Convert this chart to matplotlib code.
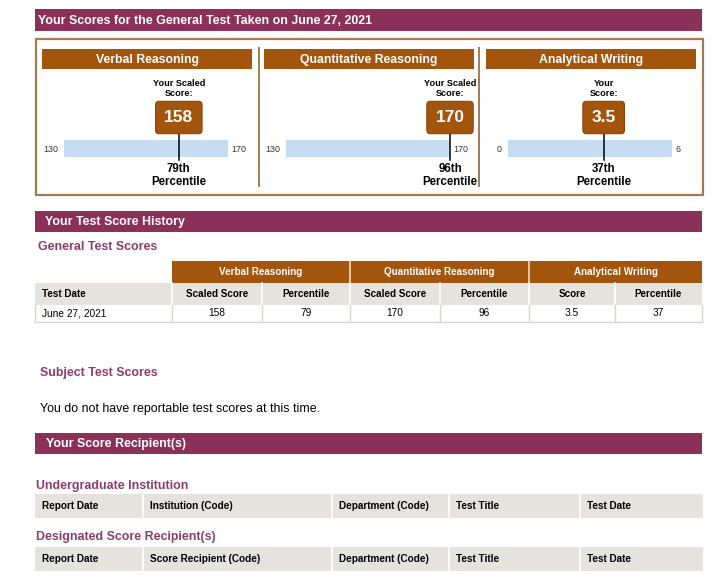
import matplotlib.pyplot as plt
from matplotlib.patches import Rectangle

plt.rcParams['font.family'] = ['Liberation Sans', 'DejaVu Sans']

# Report data
test_date = 'June 27, 2021'
measures = ['Verbal Reasoning', 'Quantitative Reasoning', 'Analytical Writing']
scores = [158, 170, 3.5]
score_lows = [130, 130, 0]
score_highs = [170, 170, 6]
percentiles = [79, 96, 37]
score_captions = ['Your Scaled\nScore:', 'Your Scaled\nScore:', 'Your\nScore:']
history_columns = ['Test Date', 'Scaled Score', 'Percentile', 'Scaled Score',
                   'Percentile', 'Score', 'Percentile']
undergrad_columns = ['Report Date', 'Institution (Code)', 'Department (Code)',
                     'Test Title', 'Test Date']
recipient_columns = ['Report Date', 'Score Recipient (Code)', 'Department (Code)',
                     'Test Title', 'Test Date']
no_subject_msg = 'You do not have reportable test scores at this time.'

# Colours
MAROON = '#8b3159'
RUST = '#a3550e'
TAN = '#a47a52'
HEADING = '#8a3d68'
GREY = '#e6e3df'
BAR = '#c6dcf0'
LINE = '#d8d5d1'

W, H = 720, 575


def fmt(v):
    return '{:g}'.format(v)


def banner(ax, y0, y1, text, tx):
    ax.add_patch(Rectangle((35, y0), 667, y1 - y0, color=MAROON, lw=0))
    ax.text(tx, (y0 + y1) / 2 + 0.5, text, color='white', weight='bold',
            size=8.9, va='center')


def grey_row(ax, edges, y0, y1, labels, ha='left', size=7.2):
    ax.add_patch(Rectangle((edges[0], y0), edges[-1] - edges[0], y1 - y0,
                           color=GREY, lw=0))
    for x in edges[1:-1]:
        ax.plot([x, x], [y0, y1], color='white', lw=1.2)
    for i, lab in enumerate(labels):
        if ha == 'left' or i == 0:
            ax.text(edges[i] + 7, (y0 + y1) / 2, lab, weight='bold',
                    size=size, va='center')
        else:
            ax.text((edges[i] + edges[i + 1]) / 2, (y0 + y1) / 2, lab,
                    weight='bold', size=size, va='center', ha='center')


fig = plt.figure(figsize=(W / 100, H / 100), dpi=100)
ax = fig.add_axes([0, 0, 1, 1])
ax.set_xlim(0, W)
ax.set_ylim(H, 0)
ax.axis('off')

# ---- Score summary ----
banner(ax, 9, 31, 'Your Scores for the General Test Taken on June 27, 2021', 38)
ax.add_patch(Rectangle((36, 39), 667, 156, fill=False, ec=TAN, lw=1.6))

panel_x = [42, 264, 486]
bar_left = [64, 286, 508]
bar_w = 164
for x in [259, 479]:
    ax.plot([x, x], [48, 186], color=TAN, lw=1.4)

for i, name in enumerate(measures):
    px = panel_x[i]
    ax.add_patch(Rectangle((px, 49), 210, 20, color=RUST, lw=0))
    ax.text(px + 105, 59.5, name, color='white', weight='bold', size=8.8,
            ha='center', va='center')

    lo, hi, s = score_lows[i], score_highs[i], scores[i]
    bax = fig.add_axes([bar_left[i] / W, 1 - 186 / H, bar_w / W, 86 / H])
    bax.set_xlim(lo, hi)
    bax.set_ylim(186, 100)
    bax.axis('off')

    bax.barh(148.5, hi - lo, left=lo, height=17, color=BAR, lw=0)
    bax.plot([s, s], [133, 160], color='black', lw=1.1, clip_on=False)
    bax.text(s, 117.5, fmt(s), color='white', weight='bold', size=12.5,
             ha='center', va='center',
             bbox=dict(boxstyle='round,pad=0.5,rounding_size=0.2',
                       fc=RUST, ec='#8a4608', lw=0.8))
    bax.text(s, 88.5, score_captions[i], size=6.6, weight='bold', ha='center',
             va='center', linespacing=1.05)
    bax.text(s, 175.5, '{}th\nPercentile'.format(percentiles[i]), size=8.3,
             weight='bold', ha='center', va='center', linespacing=1.05)
    bax.annotate(fmt(lo), (lo, 149), xytext=(-6, 0), textcoords='offset pixels',
                 ha='right', va='center', size=6.4, color='#333333')
    bax.annotate(fmt(hi), (hi, 149), xytext=(3, 0), textcoords='offset pixels',
                 ha='left', va='center', size=6.4, color='#333333')

# ---- Score history ----
banner(ax, 211, 232, 'Your Test Score History', 45)
ax.text(38, 247, 'General Test Scores', color=HEADING, weight='bold',
        size=8.9, va='center')

hist_edges = [35, 172, 262, 350, 440, 529, 615, 702]
for i, name in enumerate(measures):
    x0, x1 = hist_edges[1 + 2 * i], hist_edges[3 + 2 * i]
    ax.add_patch(Rectangle((x0, 261), x1 - x0, 22, color=RUST, lw=0))
    ax.text((x0 + x1) / 2, 272, name, color='white', weight='bold', size=7.1,
            ha='center', va='center')
for x in [350, 529]:
    ax.plot([x, x], [261, 283], color='#f0d9c0', lw=1.2)

grey_row(ax, hist_edges, 283, 305, history_columns, ha='center', size=7.1)

history_values = [test_date]
for s, p in zip(scores, percentiles):
    history_values += [fmt(s), str(p)]
ax.plot([35, 702], [322, 322], color=LINE, lw=1)
for x in hist_edges:
    ax.plot([x, x], [305, 322], color=LINE, lw=1)
for i, v in enumerate(history_values):
    if i == 0:
        ax.text(42, 313.5, v, size=7.3, va='center')
    else:
        ax.text((hist_edges[i] + hist_edges[i + 1]) / 2, 313.5, v, size=7.3,
                ha='center', va='center')

ax.text(40, 373, 'Subject Test Scores', color=HEADING, weight='bold',
        size=8.9, va='center')
ax.text(40, 409, no_subject_msg, size=8.9, va='center')

# ---- Score recipients ----
banner(ax, 433, 454, 'Your Score Recipient(s)', 46)
rec_edges = [35, 143, 332, 449, 580, 703]
ax.text(36, 486, 'Undergraduate Institution', color=HEADING, weight='bold',
        size=8.9, va='center')
grey_row(ax, rec_edges, 494, 518, undergrad_columns, size=7.2)
ax.text(36, 537, 'Designated Score Recipient(s)', color=HEADING, weight='bold',
        size=8.9, va='center')
grey_row(ax, rec_edges, 547, 571, recipient_columns, size=7.2)

fig.savefig('out.png', dpi=100)
